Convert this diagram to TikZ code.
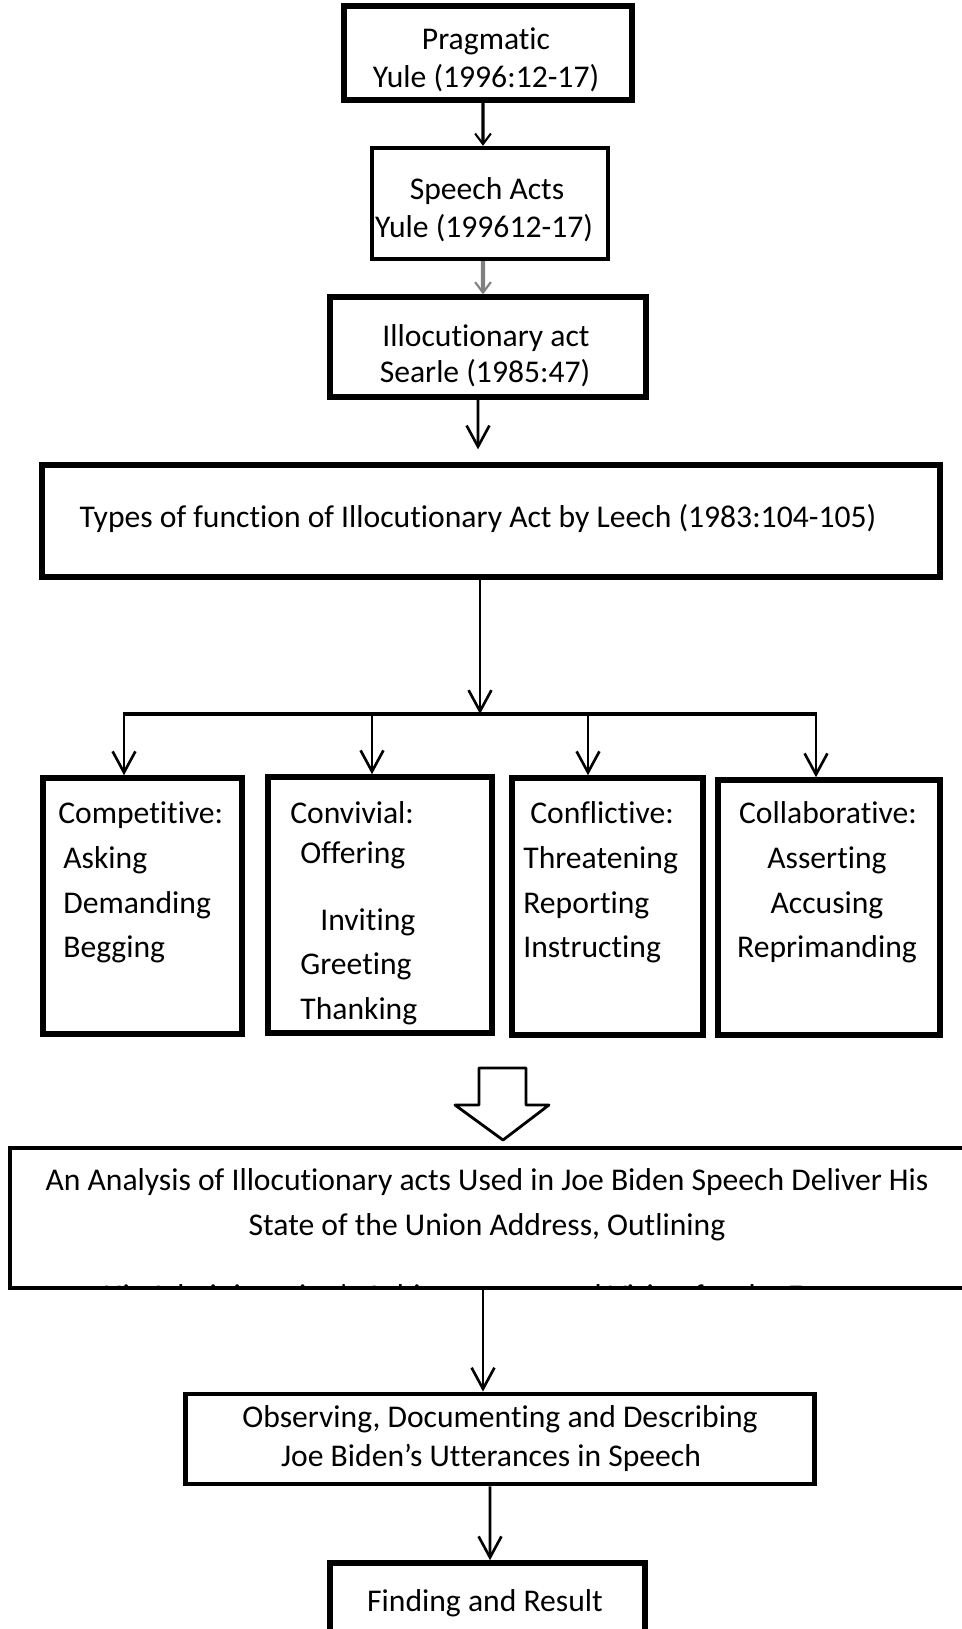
\documentclass[tikz,border=0pt]{standalone}
\usepackage{fontspec}
\setmainfont{Carlito}
\usetikzlibrary{arrows.meta,calc}
\newcommand{\nlg}{\kern0pt}
\begin{document}
\begin{tikzpicture}[x=0.02cm,y=-0.02cm]
        \tikzstyle{every node}=[font=\fontsize{18}{22}\selectfont, inner sep=0pt]
        \tikzstyle{box}=[draw, line width=3pt]
        \tikzstyle{conn}=[line width=1.5pt, -{Straight Barb[length=12pt, width=13pt]}]
        \tikzstyle{tiny}=[-{Straight Barb[length=6pt, width=9pt, line width=1.2pt]}]
        \useasboundingbox (0,0) rectangle (961,1629);
        % boxes
        \node[box, minimum width=5.76cm, minimum height=1.88cm] (prag) at (488,53) {};
        \node[box, line width=2.5pt, minimum width=4.72cm, minimum height=2.22cm] (speech) at (490,203.5) {};
        \node[box, minimum width=6.32cm, minimum height=2cm] (illoc) at (488,347) {};
        \node[box, minimum width=17.96cm, minimum height=2.24cm] (types) at (491,521) {};
        \node[box, line width=3.2pt, minimum width=3.98cm, minimum height=5.12cm] (comp) at (142.5,906) {};
        \node[box, line width=3.2pt, minimum width=4.48cm, minimum height=5.12cm] (conv) at (380,905) {};
        \node[box, line width=3.2pt, minimum width=3.82cm, minimum height=5.14cm] (confl) at (607.5,906.5) {};
        \node[box, line width=3.2pt, minimum width=4.44cm, minimum height=5.1cm] (collab) at (829,907.5) {};
        \node[box, line width=2.5pt, minimum width=19.8cm, minimum height=2.8cm] (analysis) at (505,1218) {};
        \node[box, line width=2.8pt, minimum width=12.6cm, minimum height=1.8cm] (observ) at (500,1439) {};
        \node[box, line width=3.2pt, minimum width=6.3cm, minimum height=2.34cm] (finding) at (487.5,1621.5) {};
        % texts
        \node[anchor=base] (pragA) at (486,50) {Pragmat\nlg ic};
        \node[anchor=base] (pragB) at (486,88) {Yule (1996:12-17)};
        \node[anchor=base] (speechA) at (487,199) {Speech Acts};
        \node[anchor=base] (speechB) at (484,237) {Yule (199612-17)};
        \node[anchor=base] (illocA) at (486,346) {Illocut\nlg ionary act};
        \node[anchor=base] (illocB) at (485,382) {Searle (1985:47)};
        \node[anchor=base] (typesA) at (478,527) {Types of funct\nlg ion of Illocut\nlg ionary Act by Leech (1983:104-105)};
        \node[anchor=base west] (compA) at (58,823) {Compet\nlg it\nlg ive:};
        \node[anchor=base west] (compB) at (63,868) {Asking};
        \node[anchor=base west] (compC) at (63,913) {Demanding};
        \node[anchor=base west] (compD) at (63,957) {Begging};
        \node[anchor=base west] (convA) at (290,823) {Convivial:};
        \node[anchor=base west] (convB) at (300,863) {Of\nlg fering};
        \node[anchor=base west] (convC) at (320,930) {Invit\nlg ing};
        \node[anchor=base west] (convD) at (300,974) {Greet\nlg ing};
        \node[anchor=base west] (convE) at (300,1019) {Thanking};
        \node[anchor=base west] (conflA) at (530,823) {Conf\nlg lict\nlg ive:};
        \node[anchor=base west] (conflB) at (523,868) {Threatening};
        \node[anchor=base west] (conflC) at (523,913) {Report\nlg ing};
        \node[anchor=base west] (conflD) at (523,957) {Instruct\nlg ing};
        \node[anchor=base] (collabA) at (828,823) {Collaborat\nlg ive:};
        \node[anchor=base] (collabB) at (827,868) {Assert\nlg ing};
        \node[anchor=base] (collabC) at (827,913) {Accusing};
        \node[anchor=base] (collabD) at (827,957) {Reprimanding};
        \node[anchor=base] (analysisA) at (487,1190) {An Analysis of Illocut\nlg ionary acts Used in Joe Biden Speech Deliver His};
        \node[anchor=base] (analysisB) at (487,1235) {State of the Union Address, Outlining};
        \begin{scope}
            \clip (12,1150) rectangle (961,1286);
            \node[anchor=base] (analysisC) at (488,1306) {His Administrat\nlg ion's Achievements and Vision for the Future};
        \end{scope}
        \node[anchor=base] (observA) at (500,1427) {Observing, Document\nlg ing and Describing};
        \node[anchor=base] (observB) at (491,1466) {Joe Biden’s Ut\nlg terances in Speech};
        \node[anchor=base] (findingA) at (485,1611) {Finding and Result};
        % connectors
        \draw[tiny, line width=1.8pt] ([xshift=-0.1cm]prag.south) -- ([xshift=-0.14cm]speech.north);
        \draw[tiny, line width=2.4pt, gray] ([xshift=-0.14cm]speech.south) -- ([xshift=-0.1cm]illoc.north);
        \draw[conn, shorten >=0.26cm] ([xshift=-0.2cm]illoc.south) -- ([xshift=-0.26cm]types.north);
        \coordinate (split) at (480,714);
        \coordinate (d1) at (124,714);
        \coordinate (d2) at (372,714);
        \coordinate (d3) at (588,714);
        \coordinate (d4) at (816,714);
        \draw[conn] (types.south -| split) -- (split);
        \draw[line width=2.8pt] ([xshift=-0.7pt]d1) -- ([xshift=0.7pt]d4);
        \draw[conn] (d1) -- (d1 |- comp.north);
        \draw[conn] (d2) -- (d2 |- conv.north);
        \draw[conn] (d3) -- (d3 |- confl.north);
        \draw[conn] (d4) -- (d4 |- collab.north);
        \draw[line width=1.6pt, line join=round, fill=white] (479,1068) -- (526,1068) -- (526,1105) -- (549,1105) -- (503,1140) -- (455,1105) -- (479,1105) -- cycle;
        \coordinate (obsin) at ($(observ.north)+(-17,0)$);
        \draw[conn] (analysis.south -| obsin) -- (obsin);
        \draw[conn] ([xshift=-0.2cm]observ.south) -- ([xshift=0.05cm]finding.north);
\end{tikzpicture}
\end{document}
